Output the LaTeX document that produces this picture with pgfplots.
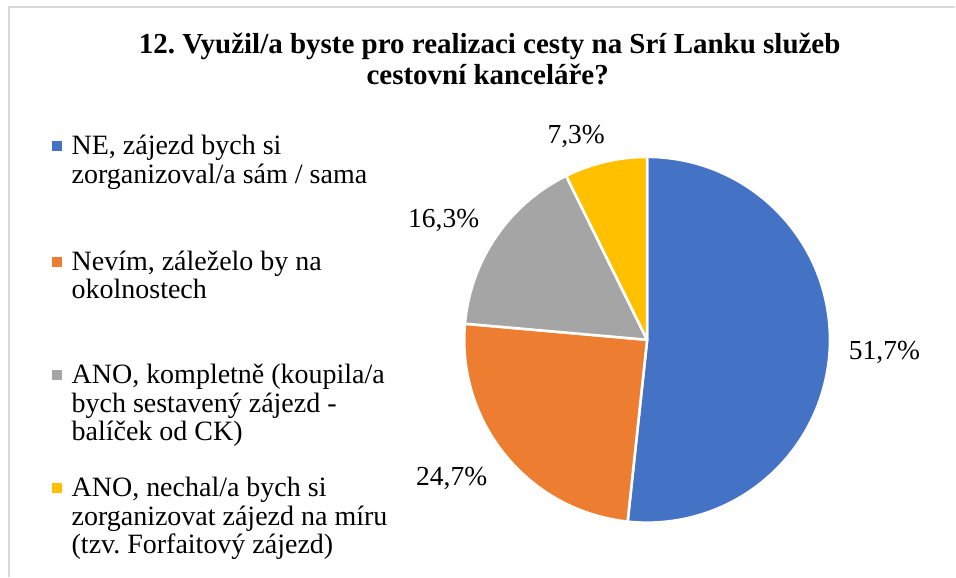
\documentclass[border=0pt]{standalone}
\usepackage{pgfplots}
\pgfplotsset{compat=1.18}
\usepackage{fontspec}
\setmainfont{Liberation Serif}
\definecolor{cblue}{HTML}{4472C4}
\definecolor{corange}{HTML}{ED7D31}
\definecolor{cgray}{HTML}{A5A5A5}
\definecolor{cyellow}{HTML}{FFC000}
\definecolor{cframe}{HTML}{D9D9D9}
\begin{document}
\begin{tikzpicture}
% shares in percent
\pgfmathsetmacro\vA{51.7}% NE
\pgfmathsetmacro\vB{24.7}% Nevim
\pgfmathsetmacro\vC{16.3}% ANO kompletne
\pgfmathsetmacro\vD{7.3}%  ANO na miru
\pgfmathsetmacro\aA{90}
\pgfmathsetmacro\aB{\aA-3.6*\vA}
\pgfmathsetmacro\aC{\aB-3.6*\vB}
\pgfmathsetmacro\aD{\aC-3.6*\vC}
\pgfmathsetmacro\aE{\aD-3.6*\vD}
\def\R{183bp}
\begin{axis}[width=956bp,height=577bp,scale only axis,hide axis,
  xmin=0,xmax=956,ymin=0,ymax=577,clip=false]
\path (axis cs:0,0) rectangle (axis cs:956,577);
% frame
\draw[cframe,line width=1.2bp] (axis cs:9,0) -- (axis cs:9,570) -- (axis cs:956,570);
% pie
\filldraw[fill=cblue,draw=white,line width=2.6bp,line join=round]
  (axis cs:647.5,237) -- ++(\aA:\R) arc[start angle=\aA,end angle=\aB,radius=\R] -- cycle;
\filldraw[fill=corange,draw=white,line width=2.6bp,line join=round]
  (axis cs:647.5,237) -- ++(\aB:\R) arc[start angle=\aB,end angle=\aC,radius=\R] -- cycle;
\filldraw[fill=cgray,draw=white,line width=2.6bp,line join=round]
  (axis cs:647.5,237) -- ++(\aC:\R) arc[start angle=\aC,end angle=\aD,radius=\R] -- cycle;
\filldraw[fill=cyellow,draw=white,line width=2.6bp,line join=round]
  (axis cs:647.5,237) -- ++(\aD:\R) arc[start angle=\aD,end angle=\aE,radius=\R] -- cycle;
% data labels
\begin{scope}[every node/.style={font=\fontsize{27.5bp}{30bp}\selectfont,inner sep=0pt,anchor=base}]
\node at (axis cs:885,217) {51,7\%};
\node at (axis cs:452,91) {24,7\%};
\node at (axis cs:444,349) {16,3\%};
\node at (axis cs:576.5,433) {7,3\%};
\end{scope}
% title
\begin{scope}[every node/.style={font=\bfseries\fontsize{29bp}{32bp}\selectfont,inner sep=0pt,anchor=base}]
\node at (axis cs:490,523) {12.\ Využil/a byste pro realizaci cesty na Srí Lanku služeb};
\node at (axis cs:488,492) {cestovní kanceláře?};
\end{scope}
% legend markers
\addplot[only marks,mark=square*,mark size=4.3bp,cblue] coordinates {(56.7,431)};
\addplot[only marks,mark=square*,mark size=4.3bp,corange] coordinates {(56.7,315.4)};
\addplot[only marks,mark=square*,mark size=4.3bp,cgray] coordinates {(56.7,202)};
\addplot[only marks,mark=square*,mark size=4.3bp,cyellow] coordinates {(56.7,88.7)};
% legend text
\begin{scope}[every node/.style={font=\fontsize{28bp}{30bp}\selectfont,inner sep=0pt,anchor=base west}]
\node at (axis cs:71.5,422) {NE, zájezd bych si};
\node at (axis cs:71.5,393.5) {zorganizoval/a sám / sama};
\node at (axis cs:71.5,306.4) {Nevím, záleželo by na};
\node at (axis cs:71.5,278.5) {okolnostech};
\node at (axis cs:71.5,193) {ANO, kompletně (koupila/a};
\node at (axis cs:71.5,164.7) {bych sestavený zájezd -};
\node at (axis cs:71.5,136.4) {balíček od CK)};
\node at (axis cs:71.5,79.7) {ANO, nechal/a bych si};
\node at (axis cs:71.5,51.4) {zorganizovat zájezd na míru};
\node at (axis cs:71.5,23) {(tzv.\ Forfaitový zájezd)};
\end{scope}
\end{axis}
\end{tikzpicture}
\end{document}
